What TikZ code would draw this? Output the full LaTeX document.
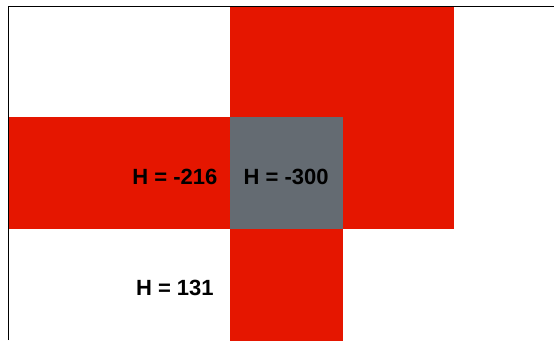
\documentclass[tikz,border=0pt]{standalone}
\usepackage{fontspec}
\setmainfont{Liberation Sans}
\usepackage{tikz}
\usetikzlibrary{positioning}
\definecolor{hotred}{RGB}{229,22,0}
\definecolor{pivotgray}{RGB}{100,107,114}
\tikzset{
  gridcell/.style={
    rectangle,
    inner sep=0pt,
    outer sep=0pt,
    minimum width=111.25pt,
    minimum height=111.3pt,
    text height=22pt,
    text depth=0pt,
    font=\fontsize{22}{26}\selectfont\bfseries
  },
  hotcell/.style={
    gridcell,
    fill=hotred,
    draw=hotred,
    line width=0.4pt
  },
  pivotcell/.style={
    gridcell,
    fill=pivotgray,
    draw=pivotgray,
    line width=0.4pt
  },
  emptycell/.style={gridcell},
  frameline/.style={line width=0.8pt,black}
}
\begin{document}
\begin{tikzpicture}[node distance=0pt]
  \useasboundingbox (0pt,0pt) rectangle (554pt,-340pt);
  \node[hotcell, at={(286.125pt,-173pt)}] (centre) {};
  \node[hotcell, above=of centre] (up) {};
  \node[hotcell, right=of up] (upright) {};
  \node[hotcell, right=of centre] (right) {};
  \node[hotcell, below=of centre] (down) {};
  \node[hotcell, left=of centre] (left) {H = -216};
  \node[hotcell, left=of left] (farleft) {};
  \node[emptycell, left=of down] (downleft) {H = 131};
  \node[pivotcell, at={(centre)}] (pivot) {H = -300};
  \draw[frameline] (8pt,-340pt) |- (554pt,-6pt);
\end{tikzpicture}
\end{document}
